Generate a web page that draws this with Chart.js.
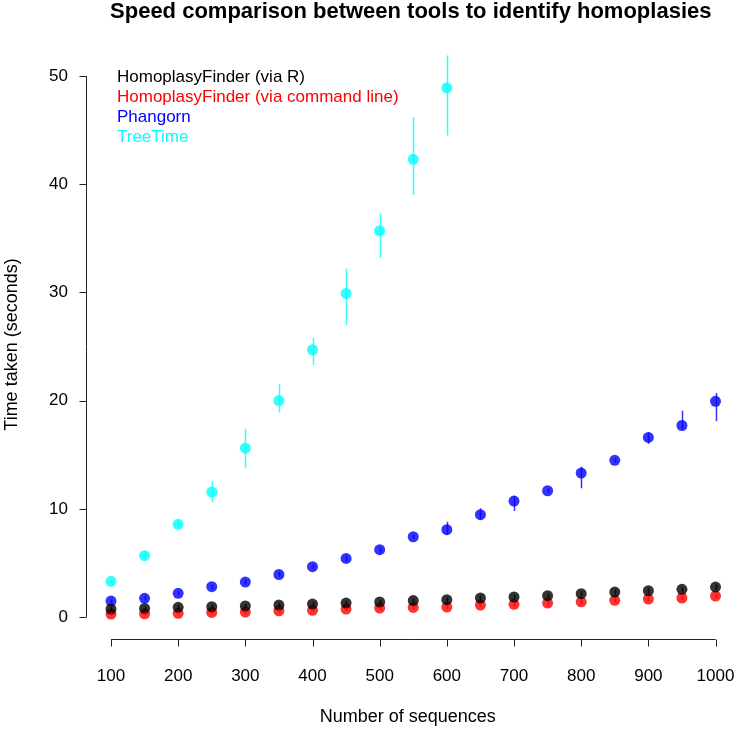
<!DOCTYPE html>
<html>
<head>
<meta charset="utf-8">
<script src="https://cdn.jsdelivr.net/npm/chart.js@4.4.1/dist/chart.umd.min.js"></script>
<style>
  html, body { margin: 0; padding: 0; background: #fff; }
  #wrap { width: 735px; height: 729px; position: relative; }
</style>
</head>
<body>
<div id="wrap"><canvas id="speedChart"></canvas></div>
<script>
// Numero di sequenze (asse x)
var sequences = [100, 150, 200, 250, 300, 350, 400, 450, 500, 550, 600, 650, 700, 750, 800, 850, 900, 950, 1000];
var xTicks = [100, 200, 300, 400, 500, 600, 700, 800, 900, 1000];
var yTicks = [0, 10, 20, 30, 40, 50];

// HomoplasyFinder (via R)
var hfR = [0.74, 0.80, 0.90, 0.95, 1.02, 1.11, 1.20, 1.29, 1.39, 1.52, 1.60, 1.76, 1.85, 1.97, 2.16, 2.31, 2.43, 2.56, 2.77];
var hfRLow = [0.55, 0.62, 0.72, 0.76, 0.83, 0.92, 1.00, 1.10, 1.20, 1.33, 1.40, 1.56, 1.64, 1.77, 1.95, 2.10, 2.22, 2.35, 2.52];
var hfRHigh = [0.92, 0.98, 1.08, 1.14, 1.21, 1.30, 1.40, 1.48, 1.58, 1.71, 1.80, 1.96, 2.06, 2.17, 2.37, 2.52, 2.64, 2.77, 3.02];

// HomoplasyFinder (via command line)
var hfCmd = [0.28, 0.30, 0.34, 0.43, 0.46, 0.58, 0.62, 0.74, 0.83, 0.89, 0.92, 1.11, 1.17, 1.29, 1.41, 1.54, 1.66, 1.76, 1.94];
var hfCmdLow = [0.10, 0.12, 0.16, 0.25, 0.28, 0.40, 0.44, 0.56, 0.65, 0.70, 0.74, 0.92, 0.98, 1.10, 1.22, 1.35, 1.46, 1.56, 1.74];
var hfCmdHigh = [0.46, 0.48, 0.52, 0.61, 0.64, 0.76, 0.80, 0.92, 1.01, 1.08, 1.10, 1.30, 1.36, 1.48, 1.60, 1.73, 1.86, 1.96, 2.14];

// Phangorn
var phangorn = [1.48, 1.73, 2.19, 2.80, 3.23, 3.93, 4.65, 5.42, 6.22, 7.42, 8.07, 9.46, 10.72, 11.67, 13.30, 14.48, 16.60, 17.70, 19.93];
var phangornLow = [1.30, 1.50, 2.00, 2.60, 3.00, 3.70, 4.40, 5.10, 5.90, 7.20, 7.60, 9.00, 9.80, 11.50, 11.90, 14.30, 16.00, 17.35, 18.10];
var phangornHigh = [1.65, 2.00, 2.40, 3.00, 3.50, 4.20, 4.90, 5.70, 6.50, 7.65, 8.80, 10.05, 11.20, 11.90, 13.90, 14.70, 17.07, 19.07, 20.70];

// TreeTime (solo fino a 600 sequenze)
var treeTime = [3.30, 5.67, 8.57, 11.55, 15.60, 20.00, 24.70, 29.90, 35.70, 42.30, 48.90];
var treeTimeLow = [3.10, 5.30, 8.20, 10.60, 13.80, 18.90, 23.30, 27.00, 33.20, 39.00, 44.50];
var treeTimeHigh = [3.50, 6.10, 8.90, 12.60, 17.40, 21.50, 25.80, 32.20, 37.30, 46.20, 51.90];

var FONT = "'Liberation Sans', Arial, Helvetica, sans-serif";

function punti(valori) {
    return valori.map(function (v, i) { return { x: sequences[i], y: v }; });
}

var serie = [
    { label: 'HomoplasyFinder (via R)', data: hfR, low: hfRLow, high: hfRHigh, color: 'rgba(0,0,0,0.8)', text: '#000000' },
    { label: 'HomoplasyFinder (via command line)', data: hfCmd, low: hfCmdLow, high: hfCmdHigh, color: 'rgba(255,0,0,0.8)', text: '#ff0000' },
    { label: 'Phangorn', data: phangorn, low: phangornLow, high: phangornHigh, color: 'rgba(0,0,255,0.8)', text: '#0000ff' },
    { label: 'TreeTime', data: treeTime, low: treeTimeLow, high: treeTimeHigh, color: 'rgba(0,255,255,0.8)', text: '#00ffff' }
];

// Barre di errore, assi in stile R, titolo e legenda
var rStyle = {
    id: 'rStyle',
    afterDatasetsDraw: function (chart) {
        var ctx = chart.ctx;
        var xs = chart.scales.x, ys = chart.scales.y;
        ctx.save();
        ctx.lineWidth = 1.5;
        serie.forEach(function (s) {
            ctx.strokeStyle = s.color;
            s.data.forEach(function (v, i) {
                var px = Math.round(xs.getPixelForValue(sequences[i])) + 0.5;
                ctx.beginPath();
                ctx.moveTo(px, ys.getPixelForValue(s.low[i]));
                ctx.lineTo(px, ys.getPixelForValue(s.high[i]));
                ctx.stroke();
            });
        });
        ctx.restore();
    },
    afterDraw: function (chart) {
        var ctx = chart.ctx;
        var xs = chart.scales.x, ys = chart.scales.y;
        var area = chart.chartArea;
        ctx.save();
        ctx.strokeStyle = '#222';
        ctx.lineWidth = 1;

        // asse x
        var yb = Math.round(area.bottom) + 0.5;
        ctx.beginPath();
        ctx.moveTo(xs.getPixelForValue(xTicks[0]), yb);
        ctx.lineTo(xs.getPixelForValue(xTicks[xTicks.length - 1]), yb);
        xTicks.forEach(function (t) {
            var px = Math.round(xs.getPixelForValue(t)) + 0.5;
            ctx.moveTo(px, yb);
            ctx.lineTo(px, yb + 7);
        });
        ctx.stroke();

        // asse y
        var xl = Math.round(area.left) + 0.5;
        ctx.beginPath();
        ctx.moveTo(xl, ys.getPixelForValue(yTicks[0]));
        ctx.lineTo(xl, ys.getPixelForValue(yTicks[yTicks.length - 1]));
        yTicks.forEach(function (t) {
            var py = Math.round(ys.getPixelForValue(t)) + 0.5;
            ctx.moveTo(xl, py);
            ctx.lineTo(xl - 7, py);
        });
        ctx.stroke();

        // titolo centrato sulla regione del grafico
        ctx.fillStyle = '#000';
        ctx.font = 'bold 22px ' + FONT;
        ctx.textAlign = 'center';
        ctx.textBaseline = 'middle';
        ctx.fillText('Speed comparison between tools to identify homoplasies', (area.left + area.right) / 2 + 3, 12);

        // legenda
        ctx.font = '17px ' + FONT;
        ctx.textAlign = 'left';
        serie.forEach(function (s, i) {
            ctx.fillStyle = s.text;
            ctx.fillText(s.label, 117, 77 + i * 20);
        });
        ctx.restore();
    }
};

var ctxSpeed = document.getElementById('speedChart').getContext('2d');
var speedChart = new Chart(ctxSpeed, {
    type: 'scatter',
    data: {
        datasets: serie.map(function (s) {
            return {
                label: s.label,
                data: punti(s.data),
                backgroundColor: s.color,
                borderWidth: 0,
                pointRadius: 5.5,
                pointHoverRadius: 5.5
            };
        })
    },
    options: {
        responsive: true,
        maintainAspectRatio: false,
        animation: false,
        layout: { padding: { top: 50, right: 0, bottom: 0, left: 0 } },
        plugins: {
            legend: { display: false },
            title: { display: false },
            tooltip: { enabled: false }
        },
        scales: {
            x: {
                type: 'linear',
                min: 62.8,
                max: 1020.8,
                grid: { display: false, drawTicks: false },
                border: { display: false },
                afterBuildTicks: function (scale) {
                    scale.ticks = xTicks.map(function (v) { return { value: v }; });
                },
                afterFit: function (scale) {
                    scale.height = 90;
                    scale.paddingLeft = 0;
                    scale.paddingRight = 0;
                },
                ticks: {
                    color: '#000',
                    padding: 27,
                    maxRotation: 0,
                    autoSkip: false,
                    font: { family: FONT, size: 17 },
                    callback: function (v) { return String(v); }
                },
                title: {
                    display: true,
                    text: 'Number of sequences',
                    color: '#000',
                    padding: { top: 0, bottom: 1 },
                    font: { family: FONT, size: 18 }
                }
            },
            y: {
                type: 'linear',
                min: -2.03,
                max: 52.4,
                grid: { display: false, drawTicks: false },
                border: { display: false },
                afterBuildTicks: function (scale) {
                    scale.ticks = yTicks.map(function (v) { return { value: v }; });
                },
                afterFit: function (scale) {
                    scale.width = 86;
                    scale.paddingTop = 0;
                    scale.paddingBottom = 0;
                },
                ticks: {
                    color: '#000',
                    padding: 18,
                    autoSkip: false,
                    font: { family: FONT, size: 17 },
                    callback: function (v) { return String(v); }
                },
                title: {
                    display: true,
                    text: 'Time taken (seconds)',
                    color: '#000',
                    padding: { top: 1, bottom: 0 },
                    font: { family: FONT, size: 18 }
                }
            }
        }
    },
    plugins: [rStyle]
});
</script>
</body>
</html>
